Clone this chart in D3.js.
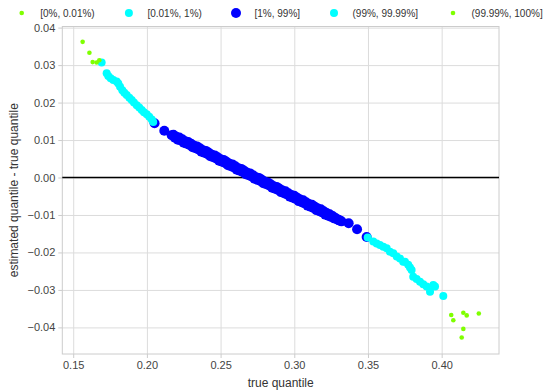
<!DOCTYPE html>
<html>
<head>
<meta charset="utf-8">
<script src="https://cdn.jsdelivr.net/npm/d3@7"></script>
<style>
  html, body { margin: 0; padding: 0; background: #fff; }
  svg { display: block; font-family: "Liberation Sans", Arial, sans-serif; }
</style>
</head>
<body>
<svg id="chart" width="549" height="392"></svg>
<script>
// ---------------- data ----------------
const seriesNames = ["[0%, 0.01%)", "[0.01%, 1%)", "[1%, 99%]", "(99%, 99.99%]", "(99.99%, 100%]"];

const lowTailX = [0.1564, 0.1610, 0.1632, 0.1659, 0.1677];
const lowTailY = [0.0362, 0.0333, 0.0308, 0.0307, 0.0313];

const lowX = [0.1693, 0.1727, 0.1738, 0.1754, 0.1772, 0.1795, 0.1806, 0.1818, 0.1833, 0.1847, 0.1863,
              0.1881, 0.1897, 0.1912, 0.1931, 0.1948, 0.1965, 0.1980, 0.1999, 0.2016, 0.2033, 0.2043];
const lowY = [0.0307, 0.0278, 0.0271, 0.0265, 0.0260, 0.0256, 0.0251, 0.0242, 0.0233, 0.0226, 0.0220,
              0.0213, 0.0207, 0.0200, 0.0193, 0.0187, 0.0180, 0.0174, 0.0169, 0.0162, 0.0155, 0.0148];

const midX = [0.2052, 0.2118, 0.2168,
  0.218, 0.219, 0.220, 0.221, 0.222, 0.223, 0.224, 0.225, 0.226, 0.227, 0.228, 0.229, 0.230,
  0.231, 0.232, 0.233, 0.234, 0.235, 0.236, 0.237, 0.238, 0.239, 0.240, 0.241, 0.242, 0.243,
  0.244, 0.245, 0.246, 0.247, 0.248, 0.249, 0.250, 0.251, 0.252, 0.253, 0.254, 0.255, 0.256,
  0.257, 0.258, 0.259, 0.260, 0.261, 0.262, 0.263, 0.264, 0.265, 0.266, 0.267, 0.268, 0.269,
  0.270, 0.271, 0.272, 0.273, 0.274, 0.275, 0.276, 0.277, 0.278, 0.279, 0.280, 0.281, 0.282,
  0.283, 0.284, 0.285, 0.286, 0.287, 0.288, 0.289, 0.290, 0.291, 0.292, 0.293, 0.294, 0.295,
  0.296, 0.297, 0.298, 0.299, 0.300, 0.301, 0.302, 0.303, 0.304, 0.305, 0.306, 0.307, 0.308,
  0.309, 0.310, 0.311, 0.312, 0.313, 0.314, 0.315, 0.316, 0.317, 0.318, 0.319, 0.320, 0.321,
  0.322, 0.323, 0.324, 0.325, 0.326, 0.327, 0.328, 0.329, 0.330, 0.331, 0.332,
  0.3369, 0.3426, 0.3491];
const midY = [0.0145, 0.0125, 0.0113,
  0.0114, 0.0106, 0.0109, 0.0101, 0.0107, 0.0099, 0.0102, 0.0093, 0.0097, 0.0090, 0.0095, 0.0087, 0.0090,
  0.0081, 0.0085, 0.0078, 0.0083, 0.0075, 0.0078, 0.0069, 0.0073, 0.0066, 0.0071, 0.0063, 0.0066, 0.0057,
  0.0061, 0.0054, 0.0059, 0.0051, 0.0054, 0.0045, 0.0049, 0.0042, 0.0047, 0.0039, 0.0042, 0.0033, 0.0037,
  0.0030, 0.0035, 0.0027, 0.0030, 0.0021, 0.0025, 0.0018, 0.0023, 0.0015, 0.0018, 0.0009, 0.0013, 0.0006,
  0.0011, 0.0003, 0.0006, -0.0003, 0.0001, -0.0006, -0.0001, -0.0009, -0.0006, -0.0015, -0.0011, -0.0018, -0.0013,
  -0.0021, -0.0018, -0.0027, -0.0023, -0.0030, -0.0025, -0.0033, -0.0030, -0.0039, -0.0035, -0.0042, -0.0037, -0.0045,
  -0.0042, -0.0051, -0.0047, -0.0054, -0.0049, -0.0057, -0.0054, -0.0063, -0.0059, -0.0066, -0.0061, -0.0069, -0.0066,
  -0.0075, -0.0071, -0.0078, -0.0073, -0.0081, -0.0078, -0.0087, -0.0083, -0.0090, -0.0085, -0.0093, -0.0090, -0.0099,
  -0.0095, -0.0102, -0.0098, -0.0105, -0.0103, -0.0109, -0.0108, -0.0112, -0.0113, -0.0115, -0.0117,
  -0.0122, -0.0138, -0.0159];

const highX = [0.3498, 0.3536, 0.3559, 0.3581, 0.3604, 0.3627, 0.3649, 0.3672, 0.3695, 0.3717, 0.3739, 0.3751,
               0.3773, 0.3785, 0.3796, 0.3807, 0.3830, 0.3853, 0.3875, 0.3898, 0.3921, 0.3943, 0.3955, 0.4011];
const highY = [-0.0160, -0.0171, -0.0176, -0.0180, -0.0185, -0.0189, -0.0198, -0.0202, -0.0211, -0.0216, -0.0225, -0.0225,
               -0.0233, -0.0240, -0.0247, -0.0265, -0.0271, -0.0278, -0.0285, -0.0291, -0.0305, -0.0287, -0.0291, -0.0316];

const highTailX = [0.4065, 0.4079, 0.4147, 0.4170, 0.4252, 0.4147, 0.4136];
const highTailY = [-0.0367, -0.0381, -0.0361, -0.0368, -0.0363, -0.0404, -0.0427];

const xTicks = [0.15, 0.20, 0.25, 0.30, 0.35, 0.40];
const yTicks = [-0.04, -0.03, -0.02, -0.01, 0.00, 0.01, 0.02, 0.03, 0.04];

const colors = ["#7fff00", "#00ffff", "#0000ff", "#00ffff", "#7fff00"];
const radii = [2.3, 4, 5, 4, 2.3];

// ---------------- chart ----------------
const svg = d3.select("#chart");
const L = 62.3, R = 499, T = 26.5, B = 354;

const x = d3.scaleLinear().domain([0.1426, 0.4389]).range([L, R]);
const y = d3.scaleLinear().domain([0.0403, -0.0471]).range([T, B]);

const zip = (xs, ys) => xs.map((v, i) => [v, ys[i]]);
const series = [
  zip(lowTailX, lowTailY),
  zip(lowX, lowY),
  zip(midX, midY),
  zip(highX, highY),
  zip(highTailX, highTailY)
];

// grid
svg.append("g")
  .attr("transform", `translate(0,${B})`)
  .call(d3.axisBottom(x).tickValues(xTicks).tickSize(-(B - T)).tickFormat(""))
  .call(g => g.select(".domain").remove())
  .call(g => g.selectAll("line").attr("stroke", "#dcdcdc").attr("stroke-width", 1));
svg.append("g")
  .attr("transform", `translate(${L},0)`)
  .call(d3.axisLeft(y).tickValues(yTicks).tickSize(-(R - L)).tickFormat(""))
  .call(g => g.select(".domain").remove())
  .call(g => g.selectAll("line").attr("stroke", "#dcdcdc").attr("stroke-width", 1));

// frame
svg.append("rect").attr("x", L).attr("y", T).attr("width", R - L).attr("height", B - T)
  .attr("fill", "none").attr("stroke", "#cccccc").attr("stroke-width", 1);

// axes ticks/labels
const xAxis = svg.append("g")
  .attr("transform", `translate(0,${B})`)
  .call(d3.axisBottom(x).tickValues(xTicks).tickSize(4).tickPadding(3).tickFormat(d3.format(".2f")));
xAxis.select(".domain").remove();
xAxis.selectAll("line").attr("stroke", "#cccccc");
xAxis.selectAll("text").attr("fill", "#444").style("font-size", "11px")
  .style("font-family", "'Liberation Sans', Arial, sans-serif");

const yAxis = svg.append("g")
  .attr("transform", `translate(${L},0)`)
  .call(d3.axisLeft(y).tickValues(yTicks).tickSize(4).tickPadding(3).tickFormat(d3.format(".2f")));
yAxis.select(".domain").remove();
yAxis.selectAll("line").attr("stroke", "#cccccc");
yAxis.selectAll("text").attr("fill", "#444").style("font-size", "11px")
  .style("font-family", "'Liberation Sans', Arial, sans-serif");

// zero line
svg.append("line")
  .attr("x1", L).attr("x2", R).attr("y1", y(0)).attr("y2", y(0))
  .attr("stroke", "#000").attr("stroke-width", 1.6);

// points (middle first so the tails sit on top)
const drawOrder = [2, 1, 3, 0, 4];
drawOrder.forEach(i => {
  svg.append("g").selectAll("circle").data(series[i]).join("circle")
    .attr("cx", d => x(d[0])).attr("cy", d => y(d[1]))
    .attr("r", radii[i]).attr("fill", colors[i]);
});

// axis titles
svg.append("text").attr("x", (L + R) / 2).attr("y", 387).attr("text-anchor", "middle")
  .attr("fill", "#333").style("font-size", "12px").text("true quantile");
svg.append("text").attr("transform", `translate(18,${(T + B) / 2}) rotate(-90)`)
  .attr("text-anchor", "middle").attr("fill", "#333").style("font-size", "12px")
  .text("estimated quantile - true quantile");

// legend
const legX = [21.7, 128.9, 236, 334, 453];
const leg = svg.append("g");
seriesNames.forEach((name, i) => {
  leg.append("circle").attr("cx", legX[i]).attr("cy", 13).attr("r", radii[i]).attr("fill", colors[i]);
  leg.append("text").attr("x", legX[i] + 18.5).attr("y", 16.5).attr("fill", "#333")
    .style("font-size", "10px").text(name);
});
</script>
</body>
</html>
